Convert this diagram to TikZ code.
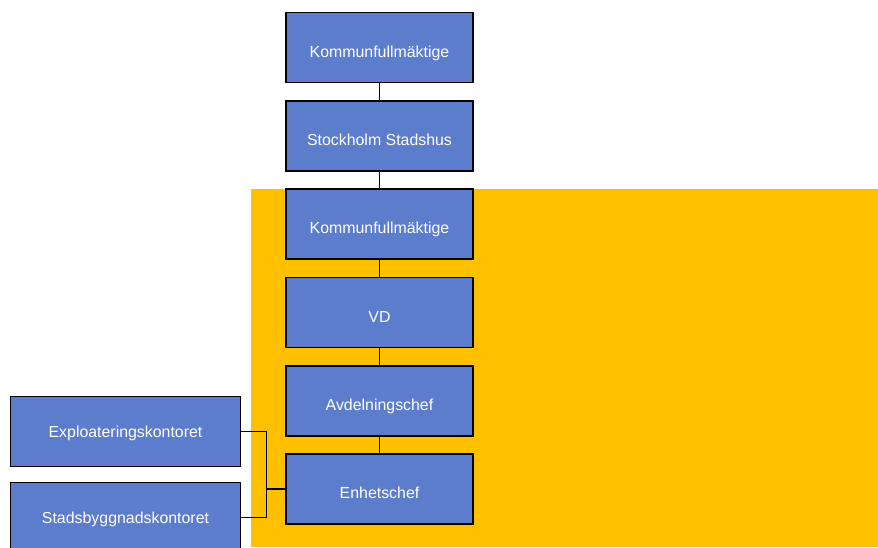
\documentclass[tikz,border=0pt]{standalone}
\usepackage{fontspec}
\setmainfont{Liberation Sans}
\definecolor{boxblue}{RGB}{92,124,204}
\definecolor{bgyellow}{RGB}{255,192,0}
\begin{document}
\begin{tikzpicture}[x=1pt,y=-1pt,
  orgbox/.style={draw=black,line width=1.8pt,fill=boxblue,text=white,
    minimum width=187pt,minimum height=70pt,inner sep=0pt,
    text height=21pt,text depth=2pt,
    font=\fontsize{15.9}{18}\selectfont},
  sidebox/.style={orgbox,minimum width=230pt,text height=12pt,text depth=1pt},
  conn/.style={draw=black,line width=1.6pt}]
\useasboundingbox (0,0) rectangle (878,547);
\clip (0,0) rectangle (878,547);
\fill[white] (0,0) rectangle (878,547);
\fill[bgyellow] (251,189) rectangle (878,547);
\node[orgbox] (k1) at (379.5,47.5) {Kommunfullmäktige};
\node[orgbox] (ss) at (379.5,135.8) {Stockholm Stadshus};
\node[orgbox] (k2) at (379.5,224.2) {Kommunfullmäktige};
\node[orgbox] (vd) at (379.5,312.5) {VD};
\node[orgbox] (av) at (379.5,400.8) {Avdelningschef};
\node[orgbox] (en) at (379.5,489) {Enhetschef};
\node[sidebox] (ex) at (125.5,431.5) {Exploateringskontoret};
\node[sidebox] (sb) at (125.5,517.5) {Stadsbyggnadskontoret};
\coordinate (jx) at (266.5,0);
\draw[conn] (k1.south) -- (ss.north);
\draw[conn] (ss.south) -- (k2.north);
\draw[conn] (k2.south) -- (vd.north);
\draw[conn] (vd.south) -- (av.north);
\draw[conn] (av.south) -- (en.north);
\draw[conn] (ex.east) -- (ex.east -| jx) -- (sb.east -| jx) -- (sb.east);
\draw[conn] (en.west) -- (en.west -| jx);
\end{tikzpicture}
\end{document}
